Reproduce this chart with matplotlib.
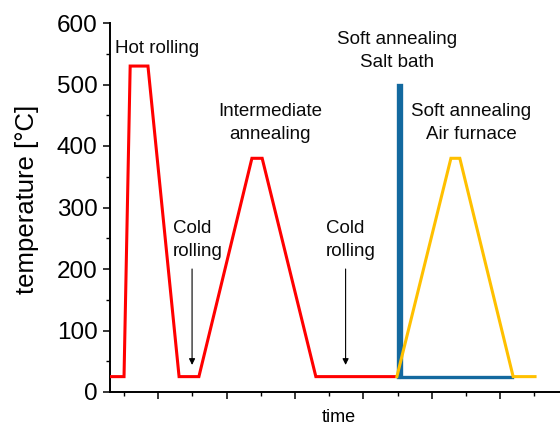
import matplotlib
matplotlib.use("Agg")
import matplotlib.pyplot as plt
from matplotlib.ticker import MultipleLocator

plt.rcParams['font.family'] = ['Liberation Sans', 'DejaVu Sans']

# Process route: time (arbitrary units) vs temperature [°C]
red_time = [-0.41, 0.0, 0.18, 0.70, 1.61, 2.19, 3.74, 4.04, 5.61, 7.98]
red_temp = [25, 25, 530, 530, 25, 25, 380, 380, 25, 25]

salt_time = [8.02, 8.02, 8.10, 8.10, 11.35]
salt_temp = [25, 500, 500, 25, 25]

air_time = [7.98, 9.56, 9.82, 11.38, 12.02]
air_temp = [25, 380, 380, 25, 25]

labels = [
    ("Hot rolling", 0.965, 551, 'center'),
    ("Intermediate\nannealing", 4.28, 449, 'center'),
    ("Cold\nrolling", 1.43, 258, 'left'),
    ("Cold\nrolling", 5.91, 258, 'left'),
    ("Soft annealing\nSalt bath", 7.98, 566, 'center'),
    ("Soft annealing\nAir furnace", 10.15, 449, 'center'),
]
arrow_time = [1.99, 6.48]
arrow_from, arrow_to = 200, 44

fig = plt.figure(figsize=(5.6, 4.26), dpi=100)
ax = fig.add_axes([110/560, 34/426, 450/560, 369/426])

ax.plot(red_time, red_temp, color='#ff0000', lw=2.2, solid_joinstyle='miter', zorder=3)
ax.plot(salt_time, salt_temp, color='#13699f', lw=2.4, solid_joinstyle='miter', zorder=4)
ax.plot(air_time, air_temp, color='#ffc000', lw=2.2, solid_joinstyle='miter', zorder=5)

pitch = 16.3  # line pitch in points
for text, x, y, ha in labels:
    for k, line in enumerate(text.split("\n")):
        ax.annotate(line, xy=(x, y), xytext=(0, -k * pitch), textcoords='offset points',
                    ha=ha, va='baseline', fontsize=13.5, color='#0a0a0a')

for x in arrow_time:
    ax.annotate("", xy=(x, arrow_to), xytext=(x, arrow_from),
                arrowprops=dict(arrowstyle='-|>', color='black', lw=0.8,
                                mutation_scale=9, shrinkA=0, shrinkB=0))

ax.set_xlim(-0.41, 12.75)
ax.set_ylim(0, 600)
ax.spines['top'].set_visible(False)
ax.spines['right'].set_visible(False)
ax.spines['left'].set_linewidth(1.4)
ax.spines['bottom'].set_linewidth(1.4)

ax.xaxis.set_major_locator(MultipleLocator(2, offset=1))
ax.xaxis.set_minor_locator(MultipleLocator(2))
ax.yaxis.set_major_locator(MultipleLocator(100))
ax.yaxis.set_minor_locator(MultipleLocator(50))
ax.tick_params(which='major', direction='out', length=5, width=1.1, labelsize=17.5, pad=4)
ax.tick_params(which='minor', direction='out', length=3, width=1.0)
ax.tick_params(axis='x', which='both', labelbottom=False)

ax.set_ylabel("temperature [°C]", fontsize=18.5, va='center')
ax.yaxis.set_label_coords(-0.184, 0.523)
fig.text(339/560, 1 - 417/426, "time", ha='center', va='center', fontsize=13)

fig.savefig("out.png", dpi=100)
